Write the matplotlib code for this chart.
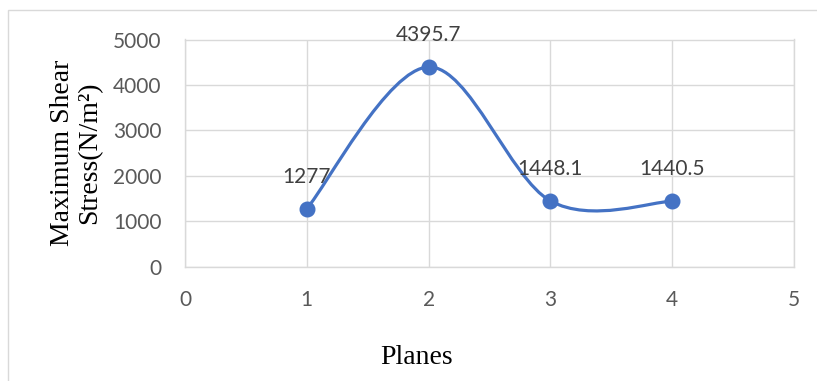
import matplotlib
matplotlib.use("Agg")
import matplotlib.pyplot as plt
import numpy as np
from matplotlib.path import Path
from matplotlib.patches import PathPatch, Rectangle

planes = [1, 2, 3, 4]
shear_stress = [1277, 4395.7, 1448.1, 1440.5]
x_ticks = [0, 1, 2, 3, 4, 5]
y_ticks = [0, 1000, 2000, 3000, 4000, 5000]

blue = "#4472C4"
grid_c = "#d9d9d9"
tick_c = "#595959"


def smooth_path(xs, ys):
    # cubic bezier through the points, catmull-rom style tangents
    pts = np.column_stack([xs, ys]).astype(float)
    n = len(pts)
    verts = [pts[0]]
    codes = [Path.MOVETO]
    for i in range(n - 1):
        p0 = pts[i - 1] if i > 0 else pts[i]
        p1 = pts[i]
        p2 = pts[i + 1]
        p3 = pts[i + 2] if i + 2 < n else pts[i + 1]
        c1 = p1 + (p2 - p0) / 6.0
        c2 = p2 - (p3 - p1) / 6.0
        verts += [c1, c2, p2]
        codes += [Path.CURVE4] * 3
    return Path(verts, codes)


fig = plt.figure(figsize=(8.17, 3.81), dpi=100)
ax = fig.add_axes([185 / 817, 1 - 266.7 / 381, 609 / 817, 227.2 / 381])

ax.add_patch(PathPatch(smooth_path(planes, shear_stress), fill=False,
                       edgecolor=blue, lw=2.3, capstyle="round", zorder=3))
ax.plot(planes, shear_stress, "o", color=blue, markersize=10.5, zorder=4)

for x, y in zip(planes, shear_stress):
    ax.annotate(f"{y:g}", (x, y), xytext=(0, 23), textcoords="offset points",
                ha="center", va="center", fontsize=15, family="Lato",
                color="#404040", zorder=5)

ax.set_xlim(0, 5)
ax.set_ylim(0, 5000)
ax.set_xticks(x_ticks)
ax.set_yticks(y_ticks)
ax.grid(True, color=grid_c, lw=1.0)
ax.set_axisbelow(True)
for s in ax.spines.values():
    s.set_color(grid_c)
    s.set_linewidth(1.0)
ax.tick_params(length=0, labelsize=15, labelcolor=tick_c)
ax.tick_params(axis="x", pad=17)
ax.tick_params(axis="y", pad=17)
for lab in ax.get_xticklabels() + ax.get_yticklabels():
    lab.set_family("Lato")

fig.text(76 / 817, 1 - 153 / 381, "Maximum Shear\nStress(N/m²)", rotation=90,
         ha="center", va="center", multialignment="center", linespacing=1.1,
         fontsize=20, family="Liberation Serif")
fig.text(417 / 817, 1 - 357 / 381, "Planes", ha="center", va="center",
         fontsize=20, family="Liberation Serif")

# chart frame, runs off the right and bottom edges
fig.add_artist(Rectangle((8 / 817, -0.2), 1.2, 1.2 - 10 / 381,
                         transform=fig.transFigure, fill=False,
                         edgecolor=grid_c, lw=1.0))

fig.savefig("out.png", dpi=100)
